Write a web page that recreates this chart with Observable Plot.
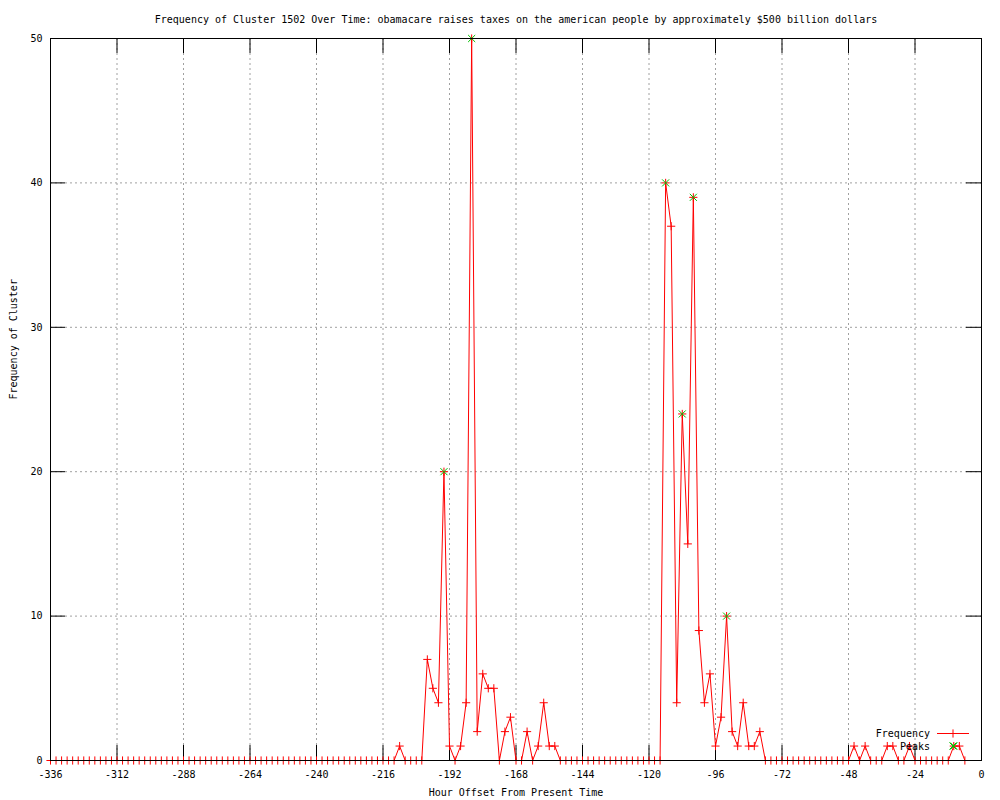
<!DOCTYPE html>
<html><head><meta charset="utf-8">
<script src="https://cdn.jsdelivr.net/npm/d3@7"></script>
<script src="https://cdn.jsdelivr.net/npm/@observablehq/plot@0.6"></script>
<style>body{margin:0;background:#fff} svg{display:block}</style>
</head><body><div id="chart"></div>
<script>
const title = "Frequency of Cluster 1502 Over Time: obamacare raises taxes on the american people by approximately $500 billion dollars";
const xLabel = "Hour Offset From Present Time";
const yLabel = "Frequency of Cluster";
const legendLabels = ["Frequency", "Peaks"];

const hours = [
  -336,-334,-332,-330,-328,-326,-324,-322,-320,-318,
  -316,-314,-312,-310,-308,-306,-304,-302,-300,-298,
  -296,-294,-292,-290,-288,-286,-284,-282,-280,-278,
  -276,-274,-272,-270,-268,-266,-264,-262,-260,-258,
  -256,-254,-252,-250,-248,-246,-244,-242,-240,-238,
  -236,-234,-232,-230,-228,-226,-224,-222,-220,-218,
  -216,-214,-212,-210,-208,-206,-204,-202,-200,-198,
  -196,-194,-192,-190,-188,-186,-184,-182,-180,-178,
  -176,-174,-172,-170,-168,-166,-164,-162,-160,-158,
  -156,-154,-152,-150,-148,-146,-144,-142,-140,-138,
  -136,-134,-132,-130,-128,-126,-124,-122,-120,-118,
  -116,-114,-112,-110,-108,-106,-104,-102,-100,-98,
  -96,-94,-92,-90,-88,-86,-84,-82,-80,-78,
  -76,-74,-72,-70,-68,-66,-64,-62,-60,-58,
  -56,-54,-52,-50,-48,-46,-44,-42,-40,-38,
  -36,-34,-32,-30,-28,-26,-24,-22,-20,-18,
  -16,-14,-12,-10,-8,-6
];
const frequency = [
  0,0,0,0,0,0,0,0,0,0,
  0,0,0,0,0,0,0,0,0,0,
  0,0,0,0,0,0,0,0,0,0,
  0,0,0,0,0,0,0,0,0,0,
  0,0,0,0,0,0,0,0,0,0,
  0,0,0,0,0,0,0,0,0,0,
  0,0,0,1,0,0,0,0,7,5,
  4,20,1,0,1,4,50,2,6,5,
  5,0,2,3,0,0,2,0,1,4,
  1,1,0,0,0,0,0,0,0,0,
  0,0,0,0,0,0,0,0,0,0,
  0,40,37,4,24,15,39,9,4,6,
  1,3,10,2,1,4,1,1,2,0,
  0,0,0,0,0,0,0,0,0,0,
  0,0,0,0,0,1,0,1,0,0,
  0,1,1,0,0,1,0,0,0,0,
  0,0,0,1,1,0
];
const peakHours = [-194,-184,-114,-108,-104,-92,-10];
const peakValues = [20,50,40,24,39,10,1];
const xTicks = [-336,-312,-288,-264,-240,-216,-192,-168,-144,-120,-96,-72,-48,-24,0];
const yTicks = [0,10,20,30,40,50];

const freqData = hours.map((h, i) => ({hour: h, value: frequency[i]}));
const peakData = peakHours.map((h, i) => ({hour: h, value: peakValues[i]}));

const W = 1000, H = 800, mL = 50, mR = 19, mT = 38, mB = 40;
const TICK = 15;
const PLUS_R = 2.75, TIMES_R = 3.3;
const plotH = H - mT - mB, plotW = W - mL - mR;
const font = "'DejaVu Sans Mono', monospace";
const gridStyle = {stroke: "#a0a0a0", strokeDasharray: "2,3", strokeWidth: 1};

const chart = Plot.plot({
  width: W, height: H,
  marginLeft: mL, marginRight: mR, marginTop: mT, marginBottom: mB,
  style: {fontFamily: font, fontSize: "10px", background: "white", color: "black"},
  x: {domain: [-336, 0]},
  y: {domain: [0, 50]},
  marks: [
    Plot.ruleX(xTicks.slice(1, -1), gridStyle),
    Plot.ruleY(yTicks.slice(1, -1), gridStyle),
    Plot.tickX(xTicks, {x: d => d, insetTop: plotH - TICK, stroke: "black"}),
    Plot.tickX(xTicks, {x: d => d, insetBottom: plotH - TICK, stroke: "black"}),
    Plot.tickY(yTicks, {y: d => d, insetRight: plotW - TICK, stroke: "black"}),
    Plot.tickY(yTicks, {y: d => d, insetLeft: plotW - TICK, stroke: "black"}),
    Plot.axisX({ticks: xTicks, tickSize: 0, tickPadding: 10, tickFormat: d => String(d), label: null}),
    Plot.axisY({ticks: yTicks, tickSize: 0, tickPadding: 8, tickFormat: d => String(d), label: null}),
    Plot.line(freqData, {x: "hour", y: "value", stroke: "red", strokeWidth: 1}),
    Plot.dot(freqData, {x: "hour", y: "value", symbol: "plus", r: PLUS_R, stroke: "red", strokeWidth: 1}),
    Plot.dot(peakData, {x: "hour", y: "value", symbol: "times", r: TIMES_R, stroke: "#00c000", strokeWidth: 1}),
    Plot.frame({stroke: "black"}),
    Plot.text([title], {text: d => d, frameAnchor: "top", dy: -23}),
    Plot.text([xLabel], {text: d => d, frameAnchor: "bottom", dy: 35}),
    Plot.text([yLabel], {text: d => d, frameAnchor: "left", dx: -37, rotate: -90})
  ]
});

// legend (layout drawn at the frame's lower-right corner)
const svg = d3.select(chart);
const right = W - mR, bottom = H - mB;
const lg = svg.append("g").attr("font-family", font).attr("font-size", 10);
const rows = [
  {label: legendLabels[0], y: bottom - 27},
  {label: legendLabels[1], y: bottom - 14}
];
rows.forEach(r => {
  lg.append("text").attr("x", right - 51).attr("y", r.y).attr("text-anchor", "end")
    .attr("dy", "0.35em").attr("fill", "black").text(r.label);
});
const sx = right - 28;
lg.append("line").attr("x1", right - 44).attr("x2", right - 12).attr("y1", rows[0].y + 0.5).attr("y2", rows[0].y + 0.5).attr("stroke", "red");
lg.append("path").attr("transform", `translate(${sx},${rows[0].y + 0.5})`).attr("d", d3.symbol(d3.symbolPlus, Math.PI * PLUS_R * PLUS_R)()).attr("stroke", "red").attr("fill", "none");
lg.append("path").attr("transform", `translate(${sx},${rows[1].y})`).attr("d", d3.symbol(d3.symbolTimes, Math.PI * TIMES_R * TIMES_R)()).attr("stroke", "#00c000").attr("fill", "none");

document.getElementById("chart").appendChild(chart);
</script>
</body></html>
